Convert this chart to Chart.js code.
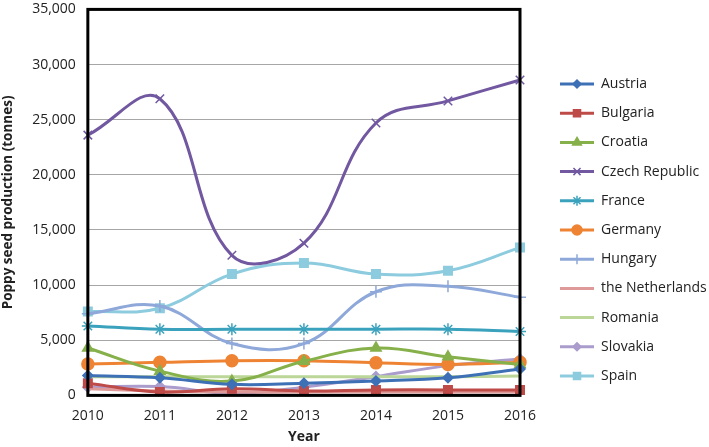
<!DOCTYPE html>
<html>
<head>
<meta charset="utf-8">
<script src="https://cdn.jsdelivr.net/npm/chart.js@4/dist/chart.umd.min.js"></script>
<style>
  html, body { margin: 0; padding: 0; background: #fff; overflow: hidden; }
  #wrap { width: 709px; height: 447px; overflow: hidden; }
  #chart { display: block; margin-top: -11px; }
</style>
</head>
<body>
<div id="wrap"><canvas id="chart" width="709" height="460"></canvas></div>
<script>
// --- DATA ---
const years = ['2010', '2011', '2012', '2013', '2014', '2015', '2016'];
const countries = ['Austria', 'Bulgaria', 'Croatia', 'Czech Republic', 'France', 'Germany',
                   'Hungary', 'the Netherlands', 'Romania', 'Slovakia', 'Spain'];

const austria     = [1800, 1600, 1000, 1100, 1300, 1600, 2400];
const bulgaria    = [1100, 300, 600, 400, 500, 500, 500];
const croatia     = [4300, 2200, 1300, 3100, 4300, 3500, 2800];
const czech       = [23600, 26900, 12700, 13800, 24700, 26700, 28600];
const france      = [6300, 6000, 6000, 6000, 6000, 6000, 5800];
const germany     = [2850, 3000, 3150, 3150, 2950, 2800, 3000];
const hungary     = [7400, 8100, 4700, 4700, 9400, 9900, 8900];
const netherlands = [600, 400, 300, 300, 300, 300, 300];
const romania     = [1700, 1700, 1700, 1700, 1700, 1700, 1750];
const slovakia    = [750, 800, 200, 750, 1700, 2700, 3300];
const spain       = [7600, 7900, 11000, 12000, 11000, 11300, 13400];

const yTicks = [0, 5000, 10000, 15000, 20000, 25000, 30000, 35000];

const seriesValues = [austria, bulgaria, croatia, czech, france, germany,
                      hungary, netherlands, romania, slovakia, spain];
const colors = ['#3E70B6', '#BE4B48', '#86B04A', '#7158A0', '#3BA2BD', '#EE8433',
                '#8EA8D9', '#DE9A98', '#BBD698', '#AA9CCC', '#8DCBDF'];
const markers = ['rectRot', 'rect', 'triangle', 'crossRot', 'star', 'circle',
                 'cross', false, false, 'rectRot', 'rect'];
const markerSize = [5, 6, 6, 6, 6, 6, 6, 0, 0, 5, 6];

const FONT = '"Open Sans", "Liberation Sans", sans-serif';

// --- PLUGINS ---
const frame = {
    id: 'frame',
    afterDatasetsDraw(chart) {
        const { ctx, chartArea: a } = chart;
        ctx.save();
        ctx.strokeStyle = '#000';
        ctx.lineWidth = 3;
        ctx.strokeRect(a.left, a.top, a.right - a.left, a.bottom - a.top);
        ctx.restore();
    }
};

// canvas is shifted up 11px, so rows are placed 11px lower here
const sideLegend = {
    id: 'sideLegend',
    afterDraw(chart) {
        const ctx = chart.ctx;
        ctx.save();
        chart.data.datasets.forEach((ds, i) => {
            const y = 95 + i * 29.2;
            ctx.strokeStyle = ds.borderColor;
            ctx.lineWidth = 3;
            ctx.beginPath();
            ctx.moveTo(560, y);
            ctx.lineTo(594, y);
            ctx.stroke();
            if (ds.pointStyle) {
                ctx.fillStyle = ds.borderColor;
                ctx.strokeStyle = ds.borderColor;
                ctx.lineWidth = 1.5;
                Chart.helpers.drawPoint(ctx, {
                    pointStyle: ds.pointStyle,
                    radius: ds.pointRadius - 1,
                    borderWidth: 1.5
                }, 577, y);
            }
            ctx.fillStyle = '#222';
            ctx.font = '14px ' + FONT;
            ctx.textBaseline = 'middle';
            ctx.textAlign = 'left';
            ctx.fillText(ds.label, 601, y);
        });
        ctx.restore();
    }
};

// --- CHART ---
const datasets = countries.map((name, i) => ({
    label: name,
    data: seriesValues[i],
    borderColor: colors[i],
    backgroundColor: colors[i],
    borderWidth: 3,
    tension: 0.4,
    pointStyle: markers[i],
    pointRadius: markerSize[i],
    pointBorderWidth: 1.5,
    pointBorderColor: colors[i],
    pointBackgroundColor: colors[i]
}));

new Chart(document.getElementById('chart'), {
    type: 'line',
    data: { labels: years, datasets: datasets },
    options: {
        responsive: false,
        animation: false,
        layout: { padding: { left: 0, right: 189, top: 2, bottom: 3 } },
        plugins: { legend: { display: false }, tooltip: { enabled: false } },
        scales: {
            x: {
                offset: false,
                grid: { display: false },
                border: { display: false },
                ticks: { color: '#222', font: { family: FONT, size: 14 }, padding: 4, maxRotation: 0 },
                title: { display: true, text: 'Year', color: '#222', font: { family: FONT, size: 14, weight: 'bold' }, padding: { top: 0, bottom: 1 } }
            },
            y: {
                min: 0,
                max: 35000,
                afterBuildTicks(axis) { axis.ticks = yTicks.map(v => ({ value: v })); },
                grid: { color: '#A6A6A6', lineWidth: 1, drawTicks: false },
                border: { display: false },
                ticks: {
                    color: '#222',
                    font: { family: FONT, size: 14 },
                    padding: 12,
                    callback: v => v.toLocaleString('en-US')
                },
                title: { display: true, text: 'Poppy seed production (tonnes)', color: '#222', font: { family: FONT, size: 13.5, weight: 'bold' }, padding: { top: 0, bottom: 4 } }
            }
        }
    },
    plugins: [frame, sideLegend]
});
</script>
</body>
</html>
